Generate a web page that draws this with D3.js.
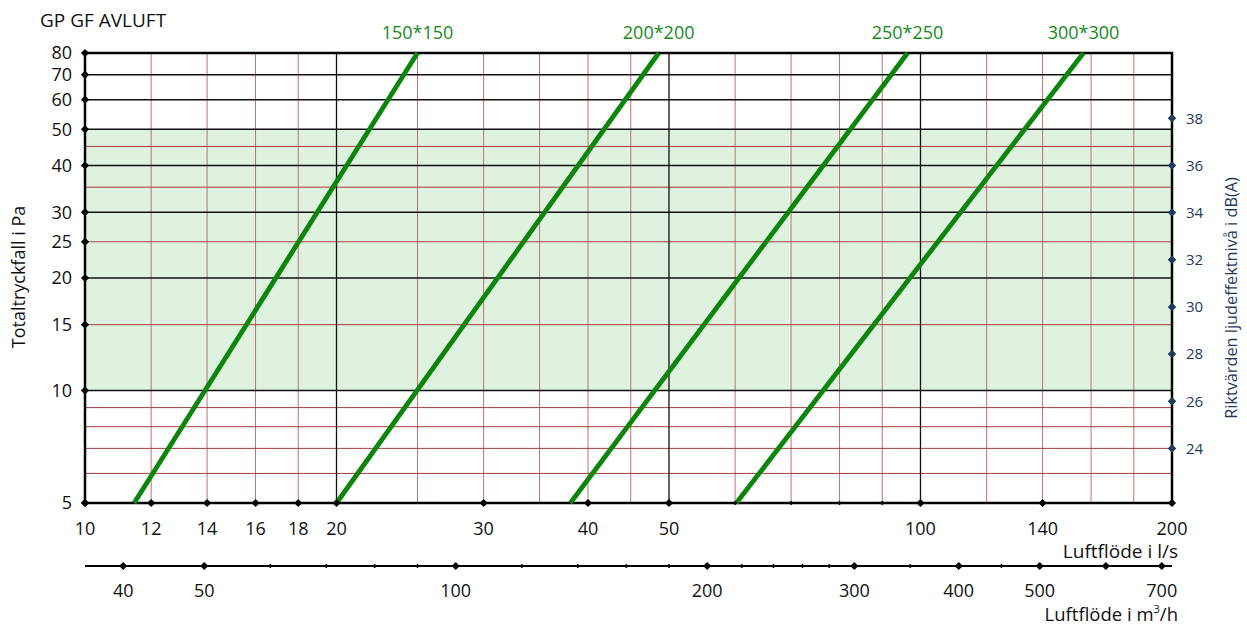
<!DOCTYPE html>
<html lang="sv">
<head>
<meta charset="UTF-8">
<title>GP GF AVLUFT</title>
<script src="https://cdn.jsdelivr.net/npm/d3@7"></script>
<style>
  body { margin: 0; background: #fff; }
  text { font-family: "Open Sans", "Noto Sans", sans-serif; }
</style>
</head>
<body>
<div id="app"></div>
<script>
// --- data ---
var sizes = ["150*150", "200*200", "250*250", "300*300"];
var flowAt5Pa = [11.45, 20, 38.1, 60.2];      // l/s where each curve meets 5 Pa
var flowAt80Pa = [25, 48.6, 96.5, 156.7];     // l/s where each curve meets 80 Pa

var flowLabels = [10, 12, 14, 16, 18, 20, 30, 40, 50, 100, 140, 200];
var flowMinor = [60, 70, 80, 90];
var flowGridRed = [12, 14, 16, 18, 25, 30, 35, 40, 45, 60, 70, 80, 90, 120, 140, 160, 180];
var flowGridBlack = [20, 50, 100];

var pressureLabels = [5, 10, 15, 20, 25, 30, 40, 50, 60, 70, 80];
var pressureGridRed = [6, 7, 8, 9, 15, 25, 35, 45];
var pressureGridBlack = [10, 20, 30, 40, 50, 60, 70];
var comfortBand = [10, 50];

var m3hMajor = [40, 50, 100, 200, 300, 400, 500, 600, 700];
var m3hLabels = [40, 50, 100, 200, 300, 400, 500, 700];
var m3hMinor = [60, 70, 80, 90, 120, 140, 160, 180, 220, 240, 260, 280, 350, 450];

var dbTicks = [24, 26, 28, 30, 32, 34, 36, 38];
var dbAtPa = [7.0, 53.5];   // Pa level matching 24 dB and 38 dB

var width = 1247, height = 626;
var margin = { left: 85, top: 53, right: 75, bottom: 123 };
var x0 = margin.left, x1 = width - margin.right;
var y0 = margin.top, y1 = height - margin.bottom;

var x = d3.scaleLog().domain([10, 200]).range([x0, x1]);
var y = d3.scaleLog().domain([5, 80]).range([y1, y0]);
var xm3 = d3.scaleLog().domain([10 * 3.6, 200 * 3.6]).range([x0, x1]);
var ydb = d3.scaleLinear().domain([24, 38]).range([y(dbAtPa[0]), y(dbAtPa[1])]);

var svg = d3.select("#app").append("svg")
    .attr("width", width)
    .attr("height", height);

var green = "#0b860b", red = "#a83c3c", navy = "#1d3a5f";
var diamond = function (size) {
    return d3.symbol().type(d3.symbolSquare).size(size)();
};

// green comfort band
svg.append("rect")
    .attr("x", x0).attr("width", x1 - x0)
    .attr("y", y(comfortBand[1])).attr("height", y(comfortBand[0]) - y(comfortBand[1]))
    .attr("fill", "#dff2df");

// grid
svg.selectAll(".vr").data(flowGridRed).enter().append("line")
    .attr("x1", d => x(d)).attr("x2", d => x(d))
    .attr("y1", y0).attr("y2", y1)
    .attr("stroke", "#bf7272").attr("stroke-width", 1);
svg.selectAll(".hr").data(pressureGridRed).enter().append("line")
    .attr("x1", x0).attr("x2", x1)
    .attr("y1", d => y(d)).attr("y2", d => y(d))
    .attr("stroke", red).attr("stroke-width", 1);
svg.selectAll(".vb").data(flowGridBlack).enter().append("line")
    .attr("x1", d => x(d)).attr("x2", d => x(d))
    .attr("y1", y0).attr("y2", y1)
    .attr("stroke", "#111").attr("stroke-width", 1.3);
svg.selectAll(".hb").data(pressureGridBlack).enter().append("line")
    .attr("x1", x0).attr("x2", x1)
    .attr("y1", d => y(d)).attr("y2", d => y(d))
    .attr("stroke", "#111").attr("stroke-width", 1.5);

// frame
svg.append("rect")
    .attr("x", x0).attr("y", y0)
    .attr("width", x1 - x0).attr("height", y1 - y0)
    .attr("fill", "none").attr("stroke", "#000").attr("stroke-width", 2.5);

// curves
svg.selectAll(".curve").data(sizes).enter().append("line")
    .attr("x1", (d, i) => x(flowAt5Pa[i])).attr("y1", y(5))
    .attr("x2", (d, i) => x(flowAt80Pa[i])).attr("y2", y(80))
    .attr("stroke", green).attr("stroke-width", 4.8);
svg.selectAll(".clabel").data(sizes).enter().append("text")
    .attr("x", (d, i) => x(flowAt80Pa[i])).attr("y", 39)
    .attr("text-anchor", "middle")
    .attr("font-size", 18).attr("fill", "#16891b")
    .text(d => d);

// left axis
svg.selectAll(".ld").data(pressureLabels).enter().append("path")
    .attr("d", diamond(34))
    .attr("transform", d => "translate(" + x0 + "," + y(d) + ") rotate(45)")
    .attr("fill", "#000");
svg.selectAll(".ll").data(pressureLabels).enter().append("text")
    .attr("x", 72).attr("y", d => y(d)).attr("dy", "0.36em")
    .attr("text-anchor", "end").attr("font-size", 18).attr("fill", "#111")
    .text(d => d);

// bottom l/s axis
svg.selectAll(".bd").data(flowLabels).enter().append("path")
    .attr("d", diamond(34))
    .attr("transform", d => "translate(" + x(d) + "," + y1 + ") rotate(45)")
    .attr("fill", "#000");
svg.selectAll(".bm").data(flowMinor).enter().append("path")
    .attr("d", diamond(11))
    .attr("transform", d => "translate(" + x(d) + "," + y1 + ") rotate(45)")
    .attr("fill", "#000");
svg.selectAll(".bl").data(flowLabels).enter().append("text")
    .attr("x", d => x(d)).attr("y", 535)
    .attr("text-anchor", "middle").attr("font-size", 18).attr("fill", "#111")
    .text(d => d);
svg.append("text")
    .attr("x", 1178).attr("y", 558)
    .attr("text-anchor", "end").attr("font-size", 19).attr("fill", "#111")
    .text("Luftflöde i l/s");

// bottom m3/h axis
var ym3 = 566;
svg.append("line")
    .attr("x1", x0).attr("x2", x1).attr("y1", ym3).attr("y2", ym3)
    .attr("stroke", "#000").attr("stroke-width", 2);
svg.selectAll(".md").data(m3hMajor).enter().append("path")
    .attr("d", diamond(34))
    .attr("transform", d => "translate(" + xm3(d) + "," + ym3 + ") rotate(45)")
    .attr("fill", "#000");
svg.selectAll(".mm").data(m3hMinor).enter().append("path")
    .attr("d", diamond(11))
    .attr("transform", d => "translate(" + xm3(d) + "," + ym3 + ") rotate(45)")
    .attr("fill", "#000");
svg.selectAll(".ml").data(m3hLabels).enter().append("text")
    .attr("x", d => xm3(d)).attr("y", 597)
    .attr("text-anchor", "middle").attr("font-size", 18).attr("fill", "#111")
    .text(d => d);
var m3title = svg.append("text")
    .attr("x", 1178).attr("y", 621)
    .attr("text-anchor", "end").attr("font-size", 18.5).attr("fill", "#111");
m3title.append("tspan").text("Luftflöde i m");
m3title.append("tspan").attr("font-size", 11).attr("dy", -8).text("3");
m3title.append("tspan").attr("dy", 8).text("/h");

// right dB axis
svg.selectAll(".rd").data(dbTicks).enter().append("path")
    .attr("d", diamond(36))
    .attr("transform", d => "translate(" + x1 + "," + ydb(d) + ") rotate(45)")
    .attr("fill", navy);
svg.selectAll(".rl").data(dbTicks).enter().append("text")
    .attr("x", 1186).attr("y", d => ydb(d)).attr("dy", "0.36em")
    .attr("font-size", 15).attr("fill", navy)
    .text(d => d);
svg.append("text")
    .attr("transform", "translate(1237,298) rotate(-90)")
    .attr("text-anchor", "middle").attr("font-size", 16.3).attr("fill", navy)
    .text("Riktvärden ljudeffektnivå i dB(A)");

// left title & heading
svg.append("text")
    .attr("transform", "translate(25,277) rotate(-90)")
    .attr("text-anchor", "middle").attr("font-size", 18).attr("fill", "#111")
    .text("Totaltryckfall i Pa");
svg.append("text")
    .attr("x", 40).attr("y", 27)
    .attr("font-size", 19).attr("fill", "#111")
    .text("GP GF AVLUFT");
</script>
</body>
</html>
